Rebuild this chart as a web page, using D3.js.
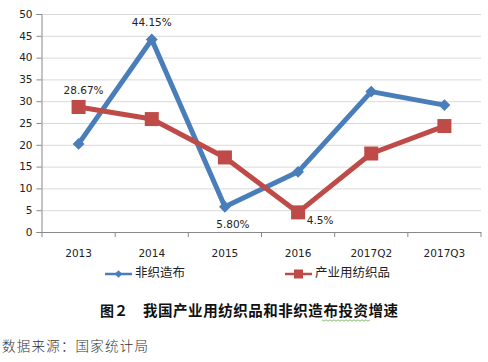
<!DOCTYPE html>
<html><head><meta charset="utf-8">
<script src="https://cdn.jsdelivr.net/npm/d3@7"></script>
<style>body{margin:0;background:#fff}svg{display:block}</style>
</head><body>
<svg id="c" width="488" height="362"></svg>
<script>
const categories = ["2013","2014","2015","2016","2017Q2","2017Q3"];
const nonwoven = [20.2, 44.15, 5.8, 13.8, 32.2, 29.1];
const industrial = [28.67, 25.9, 17.1, 4.5, 18.0, 24.3];
const yTicks = [0,5,10,15,20,25,30,35,40,45,50];
const seriesNames = ["非织造布","产业用纺织品"];
const labels = [
  {s:0, i:1, text:"44.15%", dx:0, dy:-17},
  {s:1, i:0, text:"28.67%", dx:5, dy:-16},
  {s:0, i:2, text:"5.80%", dx:8, dy:18},
  {s:1, i:3, text:"4.5%", dx:22, dy:9}
];

const svg = d3.select("#c");
const x = d3.scaleBand().domain(categories).range([42, 481]);
const y = d3.scaleLinear().domain([0,50]).range([232, 14]);
const font = "DejaVu Sans, sans-serif";

// gridlines
svg.append("g").selectAll("line").data(yTicks.filter(d=>d>0)).join("line")
  .attr("x1",42).attr("x2",481).attr("y1",d=>y(d)+0.5).attr("y2",d=>y(d)+0.5)
  .attr("stroke","#d9d9d9").attr("stroke-width",1);

// y axis
const ya = svg.append("g").attr("transform","translate(41.5,0)")
  .call(d3.axisLeft(y).tickValues(yTicks).tickSize(5).tickPadding(4));
ya.select(".domain").attr("stroke","#888");
ya.selectAll(".tick line").attr("stroke","#888");
ya.selectAll("text").attr("font-family",font).attr("font-size","10.5px").attr("fill","#222");

// x axis
const xa = svg.append("g").attr("transform","translate(0,232.5)")
  .call(d3.axisBottom(x).tickSize(0).tickPadding(17));
xa.select(".domain").attr("stroke","#888").attr("d","M42,0H481");
xa.selectAll("text").attr("font-family",font).attr("font-size","10.5px").attr("fill","#222");
svg.append("g").selectAll("line").data(d3.range(categories.length+1)).join("line")
  .attr("x1",i=>42+i*x.step()).attr("x2",i=>42+i*x.step())
  .attr("y1",232).attr("y2",237).attr("stroke","#888");

const cx = c => x(c)+x.bandwidth()/2;
const blue = "#4a7ebb", red = "#be4b48";
const line = d3.line().x((d,i)=>cx(categories[i])).y(d=>y(d));

svg.append("path").datum(nonwoven).attr("d",line).attr("fill","none")
  .attr("stroke",blue).attr("stroke-width",5).attr("stroke-linejoin","round");
svg.append("path").datum(industrial).attr("d",line).attr("fill","none")
  .attr("stroke",red).attr("stroke-width",5).attr("stroke-linejoin","round");

const diamond = d3.symbol().type(d3.symbolDiamond2 || d3.symbolDiamond).size(110);
svg.append("g").selectAll("path").data(nonwoven).join("path")
  .attr("d", d3.symbol().type(d3.symbolSquare).size(70))
  .attr("transform",(d,i)=>`translate(${cx(categories[i])},${y(d)}) rotate(45)`)
  .attr("fill",blue);
svg.append("g").selectAll("rect").data(industrial).join("rect")
  .attr("x",(d,i)=>cx(categories[i])-7).attr("y",d=>y(d)-7)
  .attr("width",14).attr("height",14).attr("fill",red);

// data labels
const series = [nonwoven, industrial];
svg.append("g").selectAll("text").data(labels).join("text")
  .attr("x",d=>cx(categories[d.i])+d.dx).attr("y",d=>y(series[d.s][d.i])+d.dy)
  .attr("text-anchor","middle").attr("dominant-baseline","middle")
  .attr("font-family",font).attr("font-size","10.5px").attr("fill","#222")
  .text(d=>d.text);

// legend
const cjk = "Noto Sans CJK SC, sans-serif";
const lg = svg.append("g");
[[105, blue, 0],[285, red, 1]].forEach(([lx,col,k])=>{
  lg.append("line").attr("x1",lx).attr("x2",lx+27).attr("y1",274).attr("y2",274)
    .attr("stroke",col).attr("stroke-width",2.5);
  if(k===0){
    lg.append("path").attr("d",d3.symbol().type(d3.symbolSquare).size(30))
      .attr("transform",`translate(${lx+13.5},274) rotate(45)`).attr("fill",col);
  } else {
    lg.append("rect").attr("x",lx+9).attr("y",269.5).attr("width",9).attr("height",9).attr("fill",col);
  }
  lg.append("text").attr("x",lx+30).attr("y",274).attr("dominant-baseline","middle")
    .attr("font-family",cjk).attr("font-size","12.5px").attr("fill","#222")
    .text(seriesNames[k]);
});

// title
svg.append("text").attr("x",100).attr("y",312).attr("dominant-baseline","middle")
  .attr("font-family",cjk).attr("font-weight","bold").attr("font-size","14px").attr("fill","#111")
  .text("图２");
svg.append("text").attr("x",143).attr("y",312).attr("dominant-baseline","middle")
  .attr("font-family",cjk).attr("font-weight","bold").attr("font-size","14.5px").attr("fill","#111")
  .attr("textLength",255).attr("lengthAdjust","spacing")
  .text("我国产业用纺织品和非织造布投资增速");
// spell-check squiggle
const sq = d3.range(0,49,2).map((d,i)=>[322+d, 320+(i%2?1.2:-0.2)]);
svg.append("path").attr("d",d3.line()(sq)).attr("fill","none").attr("stroke","#6ab04c").attr("stroke-width",0.8);

// source
svg.append("text").attr("x",2).attr("y",347).attr("dominant-baseline","middle")
  .attr("font-family",cjk).attr("font-weight","300").attr("font-size","13.5px").attr("fill","#333")
  .attr("textLength",146).attr("lengthAdjust","spacing")
  .text("数据来源：国家统计局");
</script>
</body></html>
